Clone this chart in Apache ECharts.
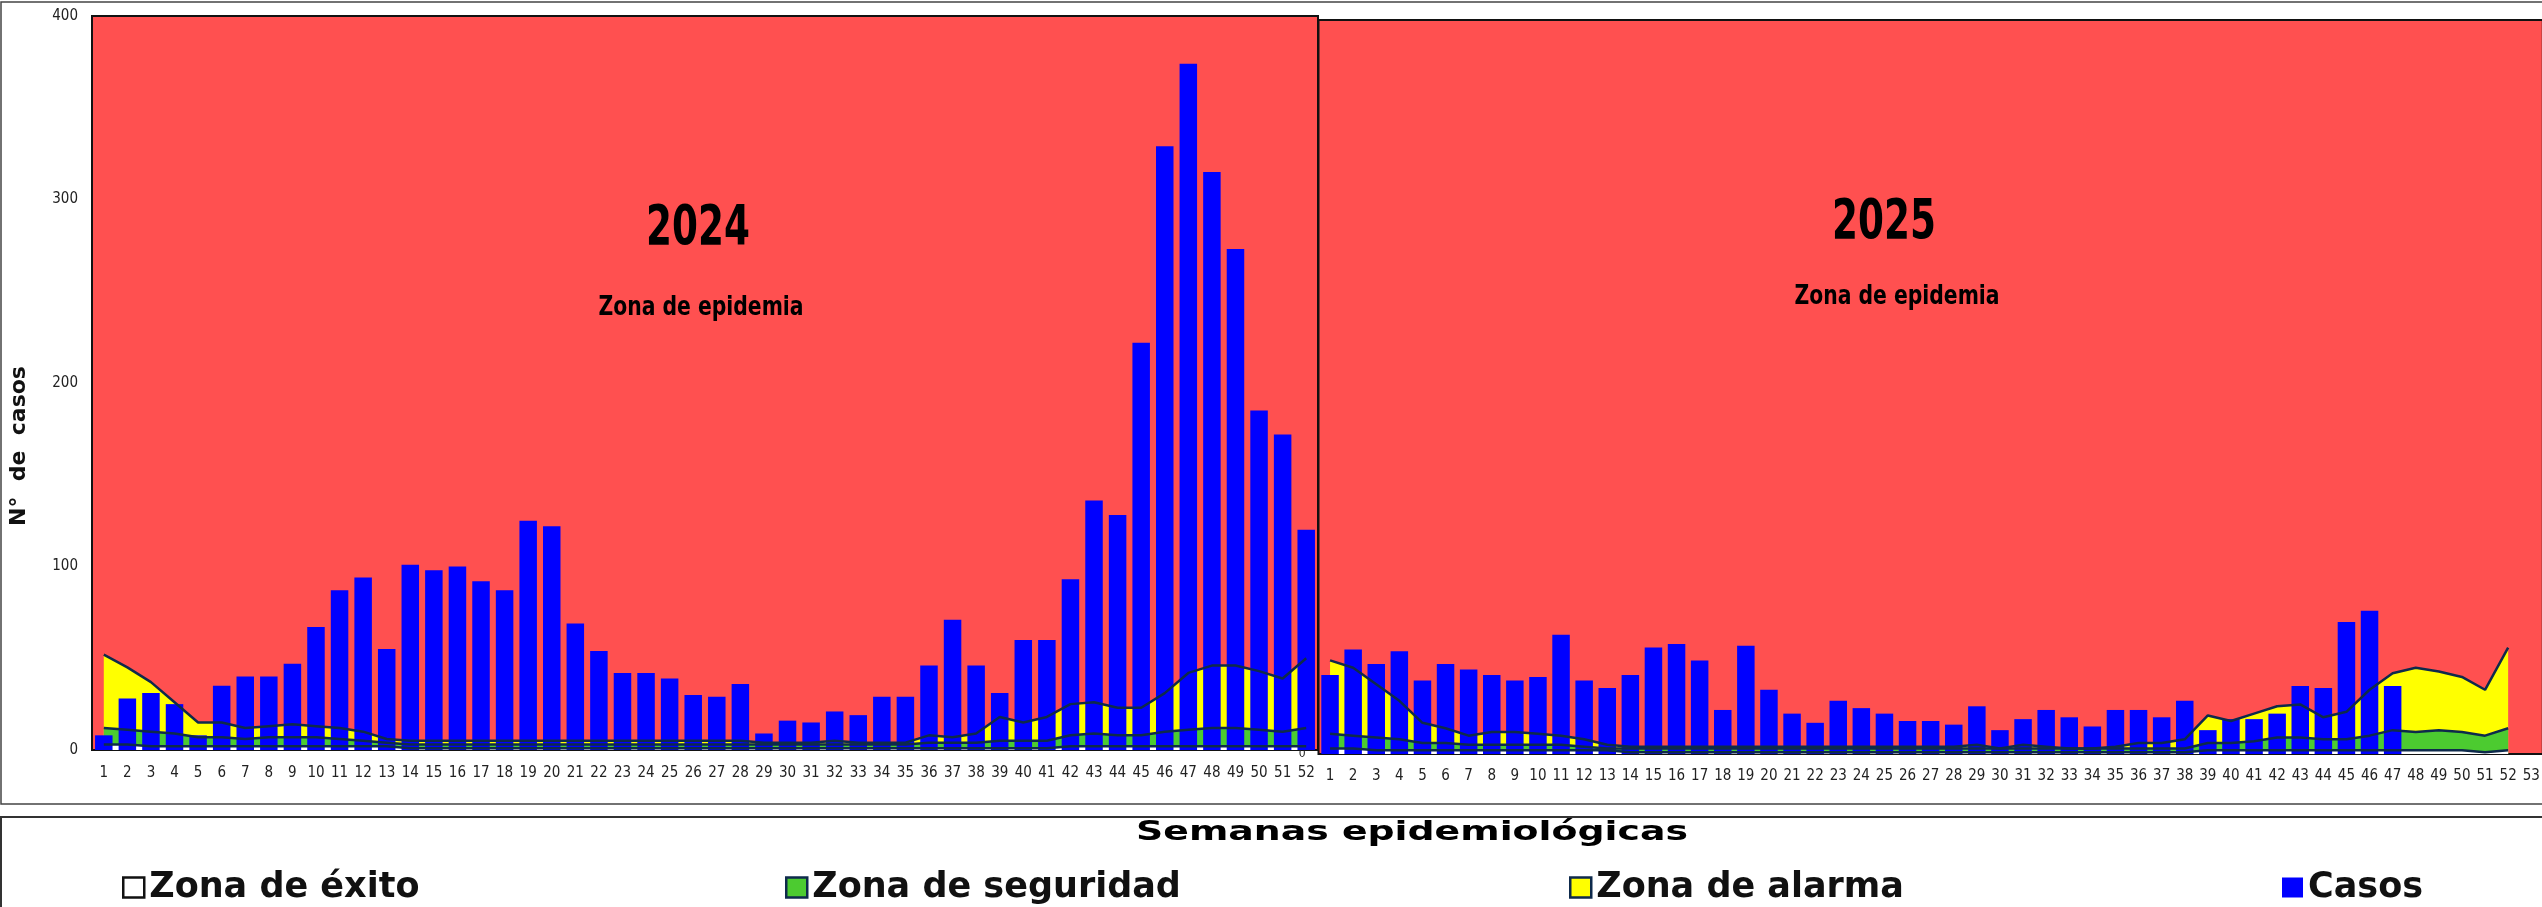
<!DOCTYPE html>
<html>
<head>
<meta charset="utf-8">
<script src="https://cdn.jsdelivr.net/npm/echarts@6/dist/echarts.min.js"></script>
<style>
html,body{margin:0;padding:0;background:#fff;}
#chart{width:2542px;height:907px;}
</style>
</head>
<body>
<div id="chart"></div>
<script>
// ---------- DATA ----------
const weeks2024 = Array.from({length: 52}, (_, i) => String(i + 1));
const weeks2025 = Array.from({length: 53}, (_, i) => String(i + 1));
const yTicks = [0, 100, 200, 300, 400];

const cases2024 = [8,28,31,25,8,35,40,40,47,67,87,94,55,101,98,100,92,87,125,122,69,54,42,42,39,30,29,36,9,16,15,21,19,29,29,46,71,46,31,60,60,93,136,128,222,329,374,315,273,185,172,120];
const alarma2024 = [52,45,37,26,15,15,12,13,14,13,12,10,6,5,5,5,5,5,5,5,5,5,5,5,5,5,5,5,4,4,4,5,4,4,4,8,7,9,18,15,18,25,26,23,23,31,42,46,46,43,39,50];
const seguridad2024 = [12,11,10,9,7,7,6,7,7,7,6,5,4,3,3,3,3,3,3,3,3,3,3,3,3,3,3,3,3,3,3,3,3,3,3,4,4,4,5,5,5,8,9,8,8,10,11,12,12,11,10,12];
const exito2024 = [3,3,2,2,2,2,2,2,2,2,2,2,2,1,1,1,1,1,1,1,1,1,1,1,1,1,1,1,1,1,1,1,1,1,1,1,1,1,1,1,1,2,2,2,2,2,2,2,2,2,2,2];

const cases2025 = [43,57,49,56,40,49,46,43,40,42,65,40,36,43,58,60,51,24,59,35,22,17,29,25,22,18,18,16,26,13,19,24,20,15,24,24,20,29,13,19,19,22,37,36,72,78,37,null,null,null,null,null,null];
const alarma2025 = [51,47,38,29,17,14,10,12,12,11,10,8,5,4,4,4,4,4,4,4,4,4,4,4,4,4,4,4,5,3,5,4,3,3,4,6,6,8,21,18,22,26,27,20,23,35,44,47,45,42,35,58,null];
const seguridad2025 = [11,10,9,8,6,6,5,5,5,5,5,4,3,3,3,3,3,3,3,3,3,3,3,3,3,3,3,3,3,3,3,3,3,3,3,3,3,3,6,6,7,9,9,8,8,10,13,12,13,12,10,14,null];
const exito2025 = [3,3,2,2,2,2,2,2,2,2,2,2,2,1,1,1,1,1,1,1,1,1,1,1,1,1,1,1,1,1,1,1,1,1,1,1,1,1,2,2,2,2,2,2,2,2,2,2,2,2,1,2,null];

// ---------- STYLE ----------
const RED = '#FF5050', BLUE = '#0000FF', YELLOW = '#FFFF00', GREEN = '#4CCB30', NAVY = '#0E2A4C';
const NARROW = "'Liberation Sans Narrow','DejaVu Sans Condensed','Liberation Sans',sans-serif";
const WIDE = "'DejaVu Sans',sans-serif";

function zone(name, data, color, xi) {
  return {
    name, type: 'line', data, xAxisIndex: xi, yAxisIndex: xi,
    symbol: 'none', showSymbol: false, silent: true,
    itemStyle: {color},
    lineStyle: {color: NAVY, width: 2.5},
    areaStyle: {color, opacity: 1}
  };
}
function bars(data, xi) {
  return {name: 'Casos', type: 'bar', data, xAxisIndex: xi, yAxisIndex: xi,
    barWidth: 17.5, itemStyle: {color: BLUE}, z: 3};
}
function xAx(cats, gi, margin) {
  return {type: 'category', gridIndex: gi, data: cats, boundaryGap: true,
    axisLine: {show: false}, axisTick: {show: false}, splitLine: {show: false},
    axisLabel: {interval: 0, margin, fontSize: 15, fontFamily: NARROW, color: '#222'}};
}
function yAx(gi, labelFn, fs, margin) {
  return {type: 'value', gridIndex: gi, min: 0, max: 400, interval: 100,
    axisLine: {show: false}, axisTick: {show: false}, splitLine: {show: false},
    axisLabel: {margin, fontSize: fs, fontFamily: NARROW, color: '#222', formatter: labelFn}};
}
const legendCommon = {icon: 'rect', itemWidth: 21, itemHeight: 20, padding: 0, selectedMode: false,
  textStyle: {fontFamily: WIDE, fontWeight: 'bold', fontSize: 35, color: '#111'}};

function label(text, x, y, font, sx) {
  return {type: 'text', silent: true, z: 100, x, y, scaleX: sx || 1,
    style: {text, font, fill: '#000', textAlign: 'center', textVerticalAlign: 'middle'}};
}

const option = {
  animation: false,
  backgroundColor: '#fff',
  grid: [
    {left: 92, top: 16, width: 1226, height: 734, show: true, backgroundColor: RED, borderColor: '#111', borderWidth: 2, containLabel: false, outerBoundsMode: 'none'},
    {left: 1318.5, top: 20, width: 1224.3, height: 734, show: true, backgroundColor: RED, borderColor: '#111', borderWidth: 2, containLabel: false, outerBoundsMode: 'none'}
  ],
  xAxis: [xAx(weeks2024, 0, 16), xAx(weeks2025, 1, 15)],
  yAxis: [
    yAx(0, v => yTicks.includes(v) ? String(v) : '', 15, 14),
    yAx(1, v => v === 0 ? '0' : '', 12, 13)
  ],
  legend: [
    Object.assign({left: 122, top: 870, data: [{name: 'Zona de éxito', itemStyle: {color: '#fff', borderColor: '#111', borderWidth: 2.5}}]}, legendCommon),
    Object.assign({left: 785, top: 870, data: [{name: 'Zona de seguridad', itemStyle: {color: GREEN, borderColor: NAVY, borderWidth: 2.5}}]}, legendCommon),
    Object.assign({left: 1569, top: 870, data: [{name: 'Zona de alarma', itemStyle: {color: YELLOW, borderColor: NAVY, borderWidth: 2.5}}]}, legendCommon),
    Object.assign({left: 2282, top: 870, data: [{name: 'Casos', itemStyle: {color: BLUE, borderWidth: 0}}]}, legendCommon)
  ],
  graphic: [
    {type: 'rect', silent: true, z: 100, shape: {x: 1, y: 2, width: 2550, height: 802}, style: {fill: null, stroke: '#444', lineWidth: 1.5}},
    {type: 'rect', silent: true, z: 100, shape: {x: 1, y: 817, width: 2550, height: 120}, style: {fill: null, stroke: '#333', lineWidth: 2}},
    {type: 'text', silent: true, z: 100, x: 19, y: 446, rotation: Math.PI / 2,
      style: {text: 'N°  de  casos', font: "bold 22px 'DejaVu Sans',sans-serif", fill: '#111', textAlign: 'center', textVerticalAlign: 'middle'}},
    label('2024', 698, 229, "bold 56px " + NARROW, 0.74),
    label('Zona de epidemia', 701, 308, "bold 26px " + NARROW, 0.87),
    label('2025', 1884, 223, "bold 56px " + NARROW, 0.74),
    label('Zona de epidemia', 1897, 297, "bold 26px " + NARROW, 0.87),
    label('Semanas epidemiológicas', 1412, 833, "bold 27px 'DejaVu Sans',sans-serif", 1.4)
  ],
  series: [
    zone('Zona de alarma', alarma2024, YELLOW, 0),
    zone('Zona de seguridad', seguridad2024, GREEN, 0),
    zone('Zona de éxito', exito2024, '#FFFFFF', 0),
    bars(cases2024, 0),
    zone('Zona de alarma', alarma2025, YELLOW, 1),
    zone('Zona de seguridad', seguridad2025, GREEN, 1),
    zone('Zona de éxito', exito2025, '#FFFFFF', 1),
    bars(cases2025, 1)
  ]
};
const chart = echarts.init(document.getElementById('chart'), null, {renderer: 'canvas'});
chart.setOption(option);
</script>
</body>
</html>
